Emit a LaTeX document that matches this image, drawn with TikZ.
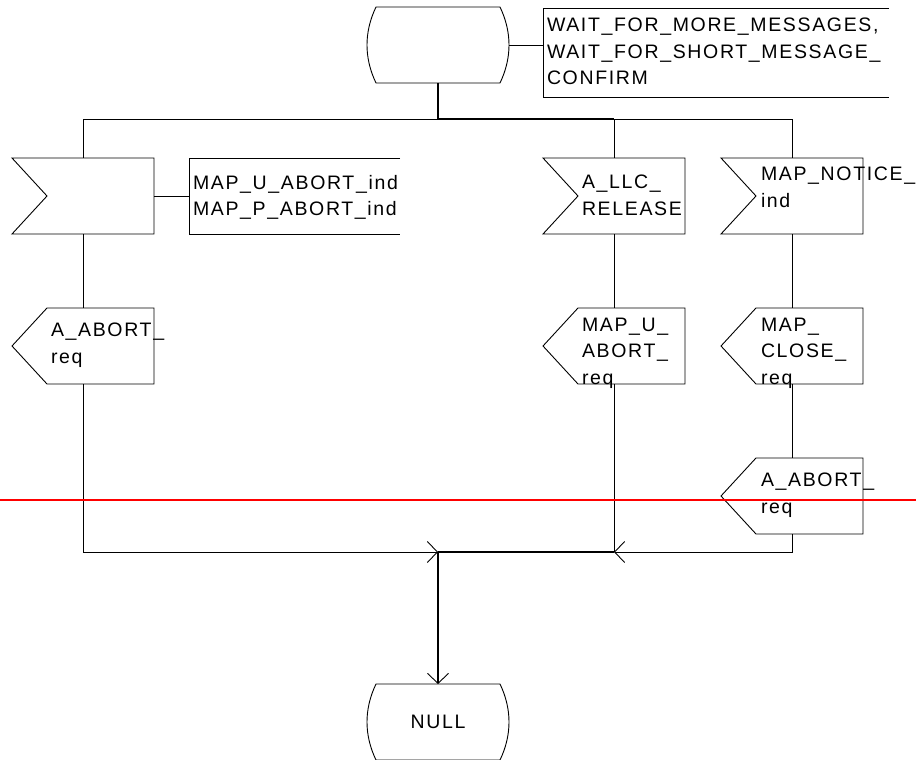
\documentclass[tikz,border=0pt]{standalone}
\usepackage{fontspec}
\setmainfont{Liberation Sans}[LetterSpace=8.5]
\usetikzlibrary{calc,arrows.meta}

\begin{document}
\begin{tikzpicture}[x=1pt,y=-1pt]
	\tikzstyle{every node} = [inner sep=0pt, outer sep=0pt];
	\tikzstyle{sym} = [minimum width=142pt, minimum height=76pt];
	\tikzstyle{txt} = [anchor=north west, align=left, font=\fontsize{19.5}{26.5}\selectfont];
	\tikzstyle{flow} = [line width=0.9pt];
	\tikzstyle{heavy} = [line width=1.8pt];
	\tikzstyle{tomerge} = [-{Straight Barb[length=10pt,width=21pt,line width=0.9pt]}];

	\useasboundingbox (0,0) rectangle (916,760);

	% states
	\node[sym] (wait) at (438,45) {};
	\node[sym] (null) at (438,722) {};
	% inputs
	\node[sym] (uabort) at (83,196) {};
	\node[sym] (llc) at (614,196) {};
	\node[sym] (notice) at (792,196) {};
	% outputs
	\node[sym] (aabort) at (83,346) {};
	\node[sym] (mapabort) at (614,346) {};
	\node[sym] (close) at (792,346) {};
	\node[sym] (aabort2) at (792,496) {};
	% comments
	\node[minimum width=346pt, minimum height=89pt] (waitc) at (716,52.5) {};
	\node[minimum width=211pt, minimum height=76pt] (uabortc) at (294.5,196) {};

	\foreach \n in {wait,null}
		\draw[flow] ($(\n.north west)+(9,0)$) -- ($(\n.north east)+(-9,0)$)
			.. controls ($(\n.north east)+(3,25)$) and ($(\n.south east)+(3,-25)$) .. ($(\n.south east)+(-9,0)$)
			-- ($(\n.south west)+(9,0)$)
			.. controls ($(\n.south west)+(-3,-25)$) and ($(\n.north west)+(-3,25)$) .. ($(\n.north west)+(9,0)$) -- cycle;
	\foreach \n in {uabort,llc,notice}
		\draw[flow] (\n.north west) -- (\n.north east) -- (\n.south east) -- (\n.south west) -- ($(\n.west)+(35,0)$) -- cycle;
	\foreach \n in {aabort,mapabort,close,aabort2}
		\draw[flow] (\n.west) -- ($(\n.north west)+(35,0)$) -- (\n.north east) -- (\n.south east) -- ($(\n.south west)+(35,0)$) -- cycle;
	\foreach \n in {waitc,uabortc}
		\draw[flow] (\n.north east) -- (\n.north west) -- (\n.south west) -- (\n.south east);

	% texts
	\node[txt] (waitt) at ($(waitc.north west)+(4,10)$) {WAIT\_FOR\_MORE\_MESSAGES,\\WAIT\_FOR\_SHORT\_MESSAGE\_\\CONFIRM};
	\node[txt] (uabortt) at ($(uabortc.north west)+(4,17)$) {MAP\_U\_ABORT\_ind\\MAP\_P\_ABORT\_ind};
	\node[txt] (llct) at ($(llc.north west)+(39,17)$) {A\_LLC\_\\RELEASE};
	\node[txt] (noticet) at ($(notice.north west)+(40,9)$) {MAP\_NOTICE\_\\ind};
	\node[txt] (aabortt) at ($(aabort.north west)+(39,15)$) {A\_ABORT\_\\req};
	\node[txt] (mapabortt) at ($(mapabort.north west)+(39,10)$) {MAP\_U\_\\ABORT\_\\req};
	\node[txt] (closet) at ($(close.north west)+(40,10)$) {MAP\_\\CLOSE\_\\req};
	\node[txt] (aabort2t) at ($(aabort2.north west)+(40,15)$) {A\_ABORT\_\\req};

	% branches
	\coordinate (fork) at ($(wait.south)+(0,36)$);
	\draw[heavy] (wait.south) -- (fork) -- (fork -| llc.north);
	\draw[flow] (fork) -| (uabort.north);
	\draw[flow] (fork -| llc.north) -- (llc.north);
	\draw[flow] (fork -| llc.north) -| (notice.north);
	\draw[flow] (wait.east) -- (wait.east -| waitc.west);
	\draw[flow] (uabort.east) -- (uabortc.west);
	\draw[flow] (uabort.south) -- (aabort.north);
	\draw[flow] (llc.south) -- (mapabort.north);
	\draw[flow] (notice.south) -- (close.north);
	\draw[flow] (close.south) -- (aabort2.north);

	% merge into NULL
	\coordinate (merge) at ($(null.north)+(0,-132)$);
	\draw[flow,tomerge] (aabort.south) |- (merge);
	\draw[flow,tomerge] (aabort2.south) |- (mapabort.south |- merge);
	\draw[flow] (mapabort.south) -- (mapabort.south |- merge);
	\draw[heavy] (mapabort.south |- merge) -- (merge);
	\draw[heavy,tomerge] (merge) -- (null.north);
	\node[txt, anchor=center] (nullt) at (null.center) {NULL};

	\draw[red, line width=2pt] (0,500) -- (916,500);
\end{tikzpicture}
\end{document}
